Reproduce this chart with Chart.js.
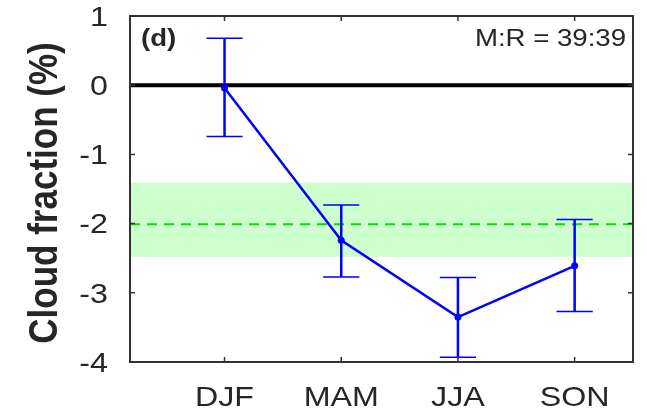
<html lang="en">
<head>
  <meta charset="UTF-8">
  <title>Cloud fraction</title>
  <style>
    html, body { margin: 0; padding: 0; background: #fff; }
    #box { width: 647px; height: 414px; }
  </style>
  <script src="https://cdn.jsdelivr.net/npm/chart.js@4.4.1/dist/chart.umd.min.js"></script>
</head>
<body>
  <div id="box"><canvas id="cloudChart" width="647" height="414"></canvas></div>
  <script>
    // seasons and values
    const seasons = ["DJF", "MAM", "JJA", "SON"]
    const meanVals = [-0.04, -2.24, -3.35, -2.61]
    const upperVals = [0.68, -1.73, -2.78, -1.94]
    const lowerVals = [-0.74, -2.77, -3.93, -3.27]
    const yTicks = [1, 0, -1, -2, -3, -4]
    const bandLow = -2.48
    const bandHigh = -1.41
    const bandMean = -2.01
    const panelTag = "(d)"
    const ratioText = "M:R = 39:39"
    const yTitle = "Cloud fraction (%)"

    const SX = 1.15  // the figure text is a bit stretched sideways
    const ink = "#262626"
    const font = "'Liberation Sans', Arial, sans-serif"

    const stretchText = (ctx, txt, x, y, align, base, f, rot) => {
      ctx.save()
      ctx.translate(x, y)
      ctx.scale(SX, 1)
      if (rot) ctx.rotate(rot)
      ctx.font = f
      ctx.textAlign = align
      ctx.textBaseline = base
      ctx.fillStyle = ink
      ctx.fillText(txt, 0, 0)
      ctx.restore()
    }

    const behind = {
      id: "behind",
      beforeDatasetsDraw(chart) {
        const { ctx, chartArea: a, scales: { x, y } } = chart
        ctx.save()
        // spread band
        ctx.fillStyle = "#ccffcc"
        const yt = y.getPixelForValue(bandHigh), yb = y.getPixelForValue(bandLow)
        ctx.fillRect(a.left, yt, a.right - a.left, yb - yt)
        // mean dashed line
        ctx.strokeStyle = "#00e000"
        ctx.lineWidth = 2
        ctx.setLineDash([10, 7])
        const ym = y.getPixelForValue(bandMean)
        ctx.beginPath(); ctx.moveTo(a.left, ym); ctx.lineTo(a.right, ym); ctx.stroke()
        ctx.setLineDash([])
        // zero line
        ctx.strokeStyle = "#000"
        ctx.lineWidth = 4
        const y0 = y.getPixelForValue(0)
        ctx.beginPath(); ctx.moveTo(a.left, y0); ctx.lineTo(a.right, y0); ctx.stroke()
        // error bars
        ctx.strokeStyle = "#0000ff"
        for (let i = 0; i < seasons.length; i++) {
          const px = x.getPixelForValue(i + 1)
          const hw = x.getPixelForValue(i + 1.155) - px
          const yu = y.getPixelForValue(upperVals[i]), yl = y.getPixelForValue(lowerVals[i])
          ctx.lineWidth = 2.5
          ctx.beginPath(); ctx.moveTo(px, yu); ctx.lineTo(px, yl); ctx.stroke()
          ctx.lineWidth = 1.5
          ctx.beginPath()
          ctx.moveTo(px - hw, yu); ctx.lineTo(px + hw, yu)
          ctx.moveTo(px - hw, yl); ctx.lineTo(px + hw, yl)
          ctx.stroke()
        }
        ctx.restore()
      },
      afterDraw(chart) {
        const { ctx, chartArea: a, scales: { x, y } } = chart
        ctx.save()
        // frame and inward ticks
        ctx.strokeStyle = "#333"
        ctx.lineWidth = 2
        ctx.strokeRect(a.left, a.top, a.right - a.left, a.bottom - a.top)
        ctx.lineWidth = 1.5
        ctx.beginPath()
        yTicks.forEach(v => {
          const py = y.getPixelForValue(v)
          ctx.moveTo(a.left, py); ctx.lineTo(a.left + 5, py)
          ctx.moveTo(a.right, py); ctx.lineTo(a.right - 5, py)
        })
        seasons.forEach((s, i) => {
          const px = x.getPixelForValue(i + 1)
          ctx.moveTo(px, a.top); ctx.lineTo(px, a.top + 5)
          ctx.moveTo(px, a.bottom); ctx.lineTo(px, a.bottom - 5)
        })
        ctx.stroke()
        ctx.restore()
        // tick labels
        yTicks.forEach(v => {
          stretchText(ctx, String(v), a.left - 22, y.getPixelForValue(v) + 2, "right", "middle", "28px " + font)
        })
        seasons.forEach((s, i) => {
          stretchText(ctx, s, x.getPixelForValue(i + 1), a.bottom + 36, "center", "middle", "28px " + font)
        })
        stretchText(ctx, yTitle, 46, (a.top + a.bottom) / 2 + 4, "center", "middle", "bold 35px " + font, -Math.PI / 2)
        stretchText(ctx, panelTag, a.left + 11, a.top + 23, "left", "middle", "bold 24px " + font)
        stretchText(ctx, ratioText, a.right - 7, a.top + 23, "right", "middle", "24px " + font)
      }
    }

    const config = {
      type: "line",
      data: {
        datasets: [{
          data: meanVals.map((v, i) => ({ x: i + 1, y: v })),
          borderColor: "#0000ff",
          backgroundColor: "#0000ff",
          borderWidth: 2.5,
          pointRadius: 3.5,
          pointBorderWidth: 0,
          tension: 0,
        }]
      },
      options: {
        responsive: false,
        animation: false,
        events: [],
        layout: { padding: { top: 16, right: 14, left: 0, bottom: 0 } },
        plugins: { legend: { display: false }, tooltip: { enabled: false } },
        scales: {
          x: {
            type: "linear",
            min: 0.19,
            max: 4.5,
            grid: { display: false },
            border: { display: false },
            ticks: { display: false },
            afterFit: s => { s.height = 52 },
          },
          y: {
            min: -4,
            max: 1,
            grid: { display: false },
            border: { display: false },
            ticks: { display: false, stepSize: 1 },
            afterFit: s => { s.width = 130 },
          }
        }
      },
      plugins: [behind]
    }
    const chart = new Chart(document.getElementById("cloudChart"), config)
  </script>
</body>
</html>
